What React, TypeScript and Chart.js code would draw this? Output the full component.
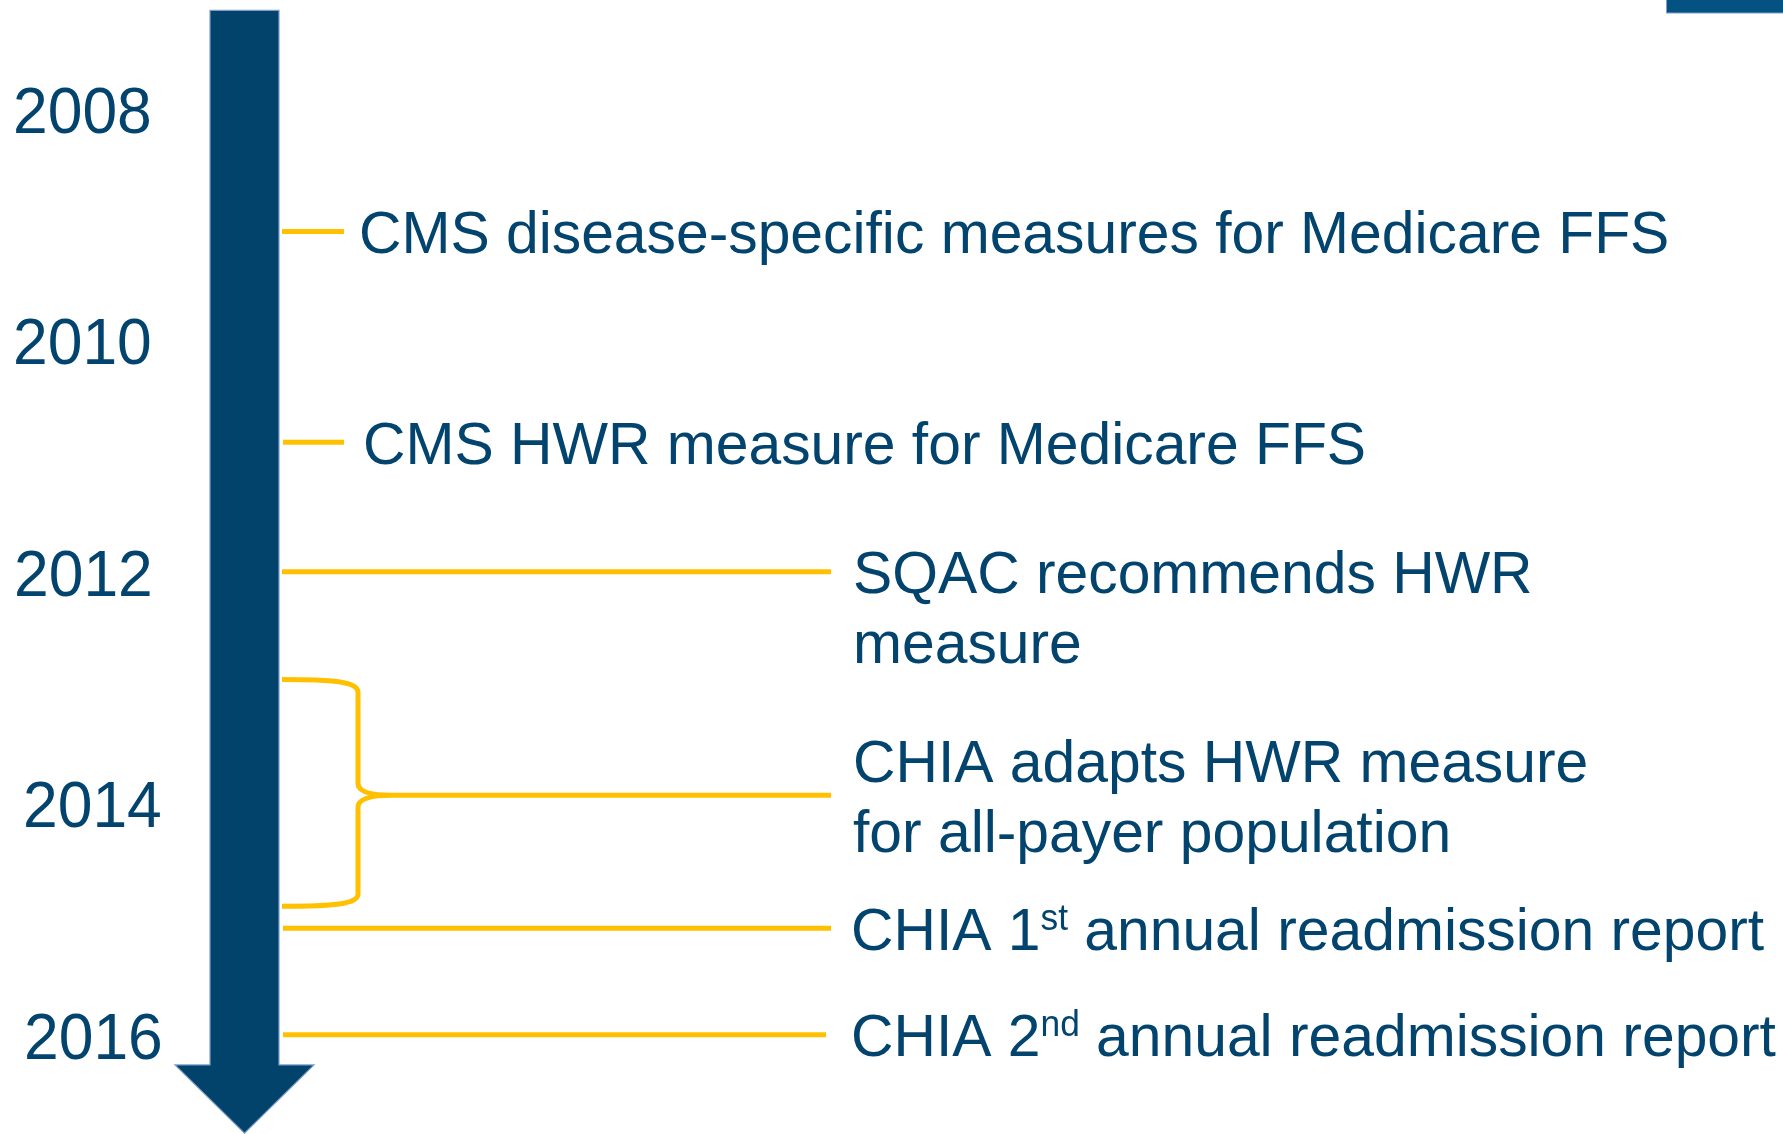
import React, { useEffect, useRef } from "react";
import { Chart, registerables } from "chart.js";

Chart.register(...registerables);

// ---------------- data ----------------
const yearTicks = [2008, 2010, 2012, 2014, 2016];
const eventYears = [2009.05, 2010.87, 2011.99, 2013.92, 2015.07, 2015.99];
const eventTexts = [
  ["CMS disease-specific measures for Medicare FFS"],
  ["CMS HWR measure for Medicare FFS"],
  ["SQAC recommends HWR", "measure"],
  ["CHIA adapts HWR measure", "for all-payer population"],
  ["CHIA 1^st^ annual readmission report"],
  ["CHIA 2^nd^ annual readmission report"],
];
const bracketSpan = [2012.92, 2014.88];
const timelineStart = 2007.14;
const timelineHeadStart = 2016.25;
const timelineEnd = 2016.84;
const axisMin = 2007.05;
const axisMax = 2016.847;

// ---------------- layout / style ----------------
const W = 1783;
const H = 1134;
const NAVY = "#02436C";
const TEXT = "#03446E";
const GOLD = "#FFC000";
const OUTLINE = "#7E9DCB";
const FONT = '"Liberation Sans", Arial, sans-serif';
const SX = 0.98;
const YEAR_FS = 64;
const EVT_FS = 60;
const LINE_GAP = 70;
const yearLabelX = [13, 13, 14, 23, 24];
const lineStartX = [282, 283, 282, 392, 283, 283];
const lineEndX = [344, 344, 831, 831, 831, 826];
const textX = [359, 363, 853, 853, 851, 851];
const textVAlign = ["top", "top", "top", "center", "top", "top"];
const shaft = { left: 210, right: 279 };
const head = { left: 175, right: 314, tip: 244.5 };
const bracket = { left: 282, spine: 358 };

function drawRich(ctx: CanvasRenderingContext2D, str: string, x: number, baseline: number, fs: number, sx: number) {
  const parts = str.split("^");
  ctx.save();
  ctx.translate(x, baseline);
  ctx.scale(sx, 1);
  ctx.textBaseline = "alphabetic";
  ctx.textAlign = "left";
  let cx = 0;
  parts.forEach((p, i) => {
    if (!p) return;
    const sup = i % 2 === 1;
    const size = sup ? fs * 0.6 : fs;
    ctx.font = `${size}px ${FONT}`;
    ctx.fillText(p, cx, sup ? -fs * 0.33 : 0);
    cx += ctx.measureText(p).width;
  });
  ctx.restore();
}

const timelinePlugin = {
  id: "timeline",
  beforeDatasetsDraw(chart: any) {
    const ctx: CanvasRenderingContext2D = chart.ctx;
    const xs = chart.scales.x;
    const ys = chart.scales.y;
    const px = (v: number) => xs.getPixelForValue(v);
    const py = (v: number) => ys.getPixelForValue(v);
    ctx.save();
    // corner decoration
    ctx.fillStyle = "#035282";
    ctx.fillRect(px(1666), 0, px(W) - px(1666), 13);
    ctx.strokeStyle = OUTLINE;
    ctx.lineWidth = 1;
    ctx.strokeRect(px(1666) + 0.5, -1, px(W) - px(1666), 14);
    // arrow
    ctx.beginPath();
    ctx.moveTo(px(shaft.left), py(timelineStart));
    ctx.lineTo(px(shaft.right), py(timelineStart));
    ctx.lineTo(px(shaft.right), py(timelineHeadStart));
    ctx.lineTo(px(head.right), py(timelineHeadStart));
    ctx.lineTo(px(head.tip), py(timelineEnd));
    ctx.lineTo(px(head.left), py(timelineHeadStart));
    ctx.lineTo(px(shaft.left), py(timelineHeadStart));
    ctx.closePath();
    ctx.fillStyle = NAVY;
    ctx.fill();
    ctx.strokeStyle = OUTLINE;
    ctx.lineWidth = 1.2;
    ctx.stroke();
    ctx.restore();
  },
  afterDatasetsDraw(chart: any) {
    const ctx: CanvasRenderingContext2D = chart.ctx;
    const xs = chart.scales.x;
    const ys = chart.scales.y;
    const px = (v: number) => xs.getPixelForValue(v);
    const py = (v: number) => ys.getPixelForValue(v);
    ctx.save();
    // bracket
    const top = py(bracketSpan[0]);
    const bot = py(bracketSpan[1]);
    const mid = py(eventYears[3]);
    const L = px(bracket.left);
    const S = px(bracket.spine);
    const C = px(lineStartX[3]);
    ctx.beginPath();
    ctx.moveTo(L, top);
    ctx.bezierCurveTo(L + 50, top, S, top + 2, S, top + 13);
    ctx.lineTo(S, mid - 12);
    ctx.bezierCurveTo(S, mid - 2, S + 18, mid, C, mid);
    ctx.moveTo(C, mid);
    ctx.bezierCurveTo(S + 18, mid, S, mid + 2, S, mid + 12);
    ctx.lineTo(S, bot - 12);
    ctx.bezierCurveTo(S, bot - 2, L + 50, bot, L, bot);
    ctx.strokeStyle = GOLD;
    ctx.lineWidth = 5;
    ctx.stroke();

    // year labels
    ctx.fillStyle = TEXT;
    const yearCap = YEAR_FS * 0.716;
    yearTicks.forEach((yr, i) => {
      drawRich(ctx, String(yr), px(yearLabelX[i]), py(yr) + yearCap / 2, YEAR_FS, 0.975);
    });

    // event texts
    const cap = EVT_FS * 0.716;
    eventTexts.forEach((lines, i) => {
      const y = py(eventYears[i]);
      let firstMid = y;
      if (textVAlign[i] === "center") firstMid = y - ((lines.length - 1) * LINE_GAP) / 2;
      lines.forEach((ln, j) => {
        drawRich(ctx, ln, px(textX[i]), firstMid + j * LINE_GAP + cap / 2, EVT_FS, SX);
      });
    });
    ctx.restore();
  },
};

export default function App() {
  const ref = useRef<HTMLCanvasElement | null>(null);
  useEffect(() => {
    document.body.style.margin = "0";
    document.body.style.overflow = "hidden";
    const canvas = ref.current;
    if (!canvas) return;
    const chart = new Chart(canvas, {
      type: "scatter",
      data: {
        datasets: eventYears.map((yr, i) => ({
          label: eventTexts[i].join(" "),
          data: [
            { x: lineStartX[i], y: yr },
            { x: lineEndX[i], y: yr },
          ],
          showLine: true,
          borderColor: GOLD,
          backgroundColor: GOLD,
          borderWidth: 5,
          borderCapStyle: "butt",
          pointRadius: 0,
          pointHoverRadius: 0,
        })),
      },
      options: {
        responsive: false,
        maintainAspectRatio: false,
        animation: false,
        events: [],
        layout: { padding: 0 },
        plugins: { legend: { display: false }, tooltip: { enabled: false } },
        scales: {
          x: { type: "linear", min: 0, max: W, display: false },
          y: { type: "linear", min: axisMin, max: axisMax, reverse: true, display: false },
        },
      } as any,
      plugins: [timelinePlugin],
    });
    return () => chart.destroy();
  }, []);
  return (
    <div style={{ width: W, height: H, background: "#ffffff" }}>
      <canvas ref={ref} width={W} height={H} style={{ display: "block", width: W, height: H }} />
    </div>
  );
}
